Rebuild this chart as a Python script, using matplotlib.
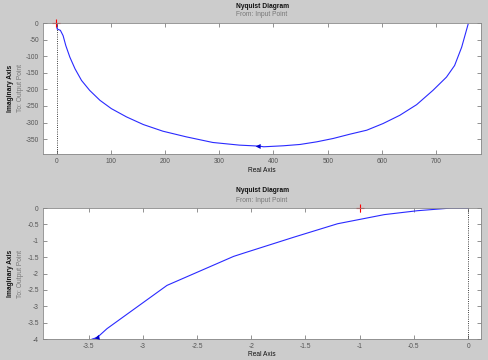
import numpy as np
import matplotlib.pyplot as plt

plt.rcParams['font.family'] = ['Liberation Sans', 'DejaVu Sans']

# nyquist curve, upper plot
re_top = [0, 1, 7, 12, 17, 24.5, 34, 46, 61, 80, 101, 129, 160, 196, 239, 288, 337, 374,
          382, 418, 449, 480, 510, 541, 572, 602, 633, 664, 694, 719, 734, 747, 759]
im_top = [-3, -18, -22, -38, -68, -103, -138, -173, -203, -233, -258, -283, -306, -326, -343, -360, -368, -371,
          -373, -370, -366, -358, -348, -335, -323, -303, -278, -246, -203, -163, -128, -73, -3]

# lower plot, zoomed near the -1 point
re_bot = [-3.468, -3.42, -3.33, -2.777, -2.163, -2.065, -1.604, -1.204, -0.774, -0.467, -0.16, 0]
im_bot = [-4.0, -3.95, -3.68, -2.36, -1.475, -1.37, -0.885, -0.478, -0.2, -0.08, 0, 0]

xt_top = np.arange(0, 701, 100)
yt_top = np.arange(-350, 1, 50)
xt_bot = np.arange(-3.5, 0.01, 0.5)
yt_bot = np.arange(-4, 0.01, 0.5)

bg = '#cccccc'
fs = 4.8

fig = plt.figure(figsize=(4.89, 3.6), dpi=100, facecolor=bg)
ax1 = fig.add_axes([0.088, 0.572, 0.896, 0.364])
ax2 = fig.add_axes([0.088, 0.058, 0.896, 0.364])


def fmt(v):
    if abs(v - round(v)) < 1e-9:
        return '%d' % round(v)
    return '%g' % v


def style(ax, xt, yt, xl, yl):
    ax.set_xlim(xl)
    ax.set_ylim(yl)
    ax.set_xticks(xt)
    ax.set_yticks(yt)
    ax.set_xticklabels([fmt(v) for v in xt])
    ax.set_yticklabels([fmt(v) for v in yt])
    ax.tick_params(direction='in', top=True, right=True, length=3, width=0.5,
                   colors='#666666', labelsize=fs, labelcolor='#555555', pad=3)
    for s in ax.spines.values():
        s.set_color('#888888')
        s.set_linewidth(0.6)
    ax.axvline(0, color='k', ls=':', lw=0.6)
    ax.set_facecolor('white')


style(ax1, xt_top, yt_top, (-25, 783), (-395, 0))
style(ax2, xt_bot, yt_bot, (-3.92, 0.12), (-4, 0))

blue = '#2a2aff'
ax1.plot(re_top, im_top, color=blue, lw=0.8)
ax1.plot(-1, 0, '+', color='red', ms=6, mew=0.8, clip_on=False)
ax1.annotate('', xy=(362, -372), xytext=(395, -372),
             arrowprops=dict(arrowstyle='-|>', color='#0000cc', lw=0, mutation_scale=9))

ax2.plot(re_bot, im_bot, color=blue, lw=0.8)
ax2.plot(-1, 0, '+', color='red', ms=6, mew=0.8, clip_on=False)
ax2.annotate('', xy=(-3.47, -4.0), xytext=(-3.38, -3.93),
             arrowprops=dict(arrowstyle='-|>', color='#0000cc', lw=0, mutation_scale=9),
             annotation_clip=False)

for top_px, bot_px, lab_off in [(23, 154, 16.5), (208, 339, 15)]:
    cy = 1 - (top_px + bot_px) / 2 / 360
    fig.text(0.536, 1 - (top_px - 17) / 360, 'Nyquist Diagram', ha='center', va='center',
             fontsize=fs, fontweight='bold', color='#111111')
    fig.text(0.536, 1 - (top_px - 8) / 360, 'From: Input Point', ha='center', va='center',
             fontsize=fs, color='#777777')
    fig.text(0.536, 1 - (bot_px + lab_off) / 360, 'Real Axis', ha='center', va='center',
             fontsize=fs, color='#111111')
    fig.text(10.5 / 489, cy, 'Imaginary Axis', ha='center', va='center', rotation=90,
             fontsize=fs, fontweight='bold', color='#111111')
    fig.text(20.5 / 489, cy, 'To: Output Point', ha='center', va='center', rotation=90,
             fontsize=fs, color='#777777')

fig.savefig('out.png', dpi=100, facecolor=bg)
